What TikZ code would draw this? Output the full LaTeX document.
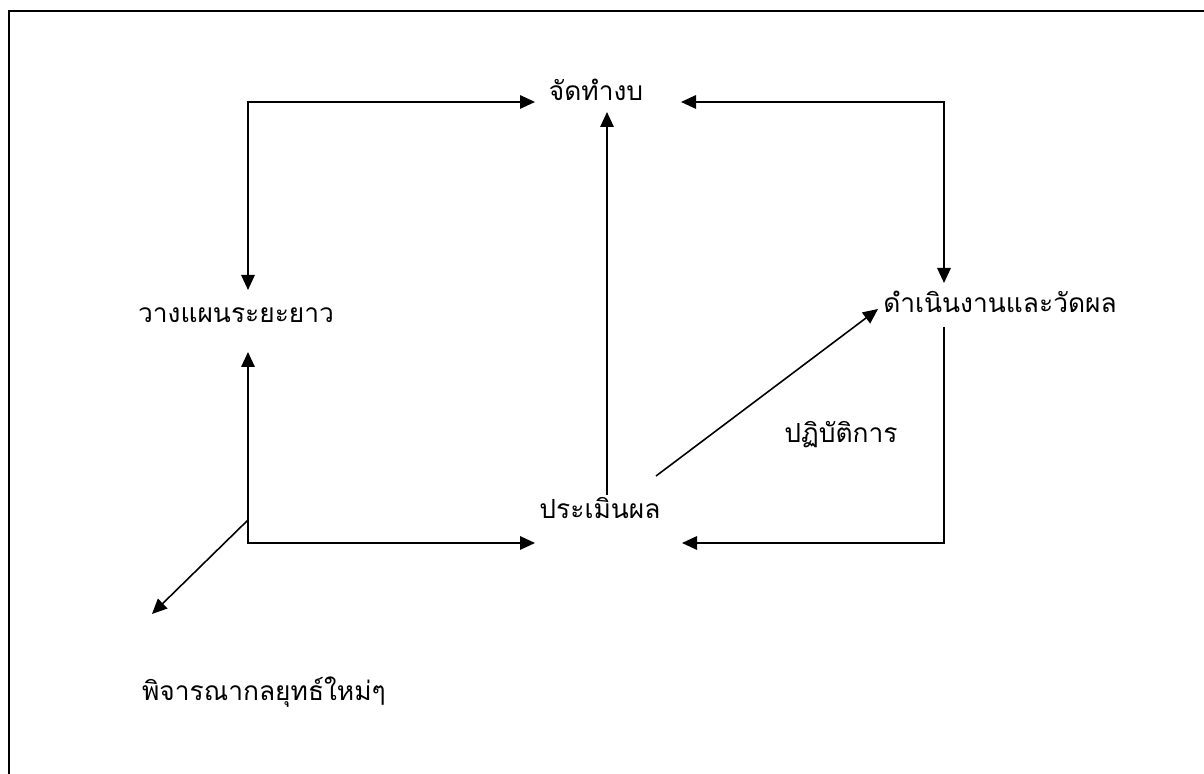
\documentclass[tikz,border=0pt]{standalone}
\usepackage{fontspec}
\newfontfamily\thaifont[Script=Thai]{Loma}
\usepackage{tikz}
\usetikzlibrary{arrows.meta}
\usetikzlibrary{calc}

\begin{document}
\begin{tikzpicture}[x=0.02cm, y=0.02cm]
	\tikzstyle{thaitext}=[draw = none, inner sep=0pt, font=\thaifont\fontsize{15}{18}\selectfont]
	\tikzstyle{flow}=[line width=0.9pt, {Triangle[length=0.3cm,width=0.27cm]}-{Triangle[length=0.3cm,width=0.27cm]}]
	\tikzstyle{oneway}=[line width=0.9pt, -{Triangle[length=0.3cm,width=0.27cm]}]
	\useasboundingbox (0,0) rectangle (1204,774);
	%outer frame
	\draw[line width=1.2pt] (9,-20) -- (9,763) -- (1230,763);
	%%% TEXT NODES %%%
	\node[thaitext] (budget) at (596,684) {จัดทำงบ};
	\node[thaitext] (plan) at (236,459) {วางแผนระยะยาว};
	\node[thaitext] (operate) at (1000,472) {ดำเนินงานและวัดผล};
	\node[thaitext] (evaluate) at (600,266) {ประเมินผล};
	\node[thaitext] (practice) at (841,339) {ปฏิบัติการ};
	\node[thaitext] (consider) at (264,82) {พิจารณากลยุทธ์ใหม่ๆ};
	%%% CONNECTOR ENDS %%%
	\coordinate (budgetL) at (535,672);
	\coordinate (budgetR) at (681,672);
	\coordinate (budgetB) at (607,662);
	\coordinate (planT) at (248,484);
	\coordinate (planB) at (248,422);
	\coordinate (operateT) at (944,491);
	\coordinate (operateB) at (944,447);
	\coordinate (operateW) at (878,465);
	\coordinate (evalL) at (535,231);
	\coordinate (evalR) at (682,231);
	\coordinate (evalT) at (607,279);
	\coordinate (evalNE) at (656,298);
	\coordinate (branch) at (248,254);
	\coordinate (considerT) at (152,160);
	%top left loop
	\draw[flow] (budgetL) -| (planT);
	%top right loop
	\draw[flow] (budgetR) -| (operateT);
	%evaluate up to budget
	\draw[oneway] (evalT) -- (budgetB);
	%bottom left loop
	\draw[flow] (planB) |- (evalL);
	%evaluate to operate
	\draw[oneway] (evalNE) -- (operateW);
	%operate back to evaluate
	\draw[oneway] (operateB) |- (evalR);
	%new strategy
	\draw[oneway] (branch) -- (considerT);
\end{tikzpicture}
\end{document}
